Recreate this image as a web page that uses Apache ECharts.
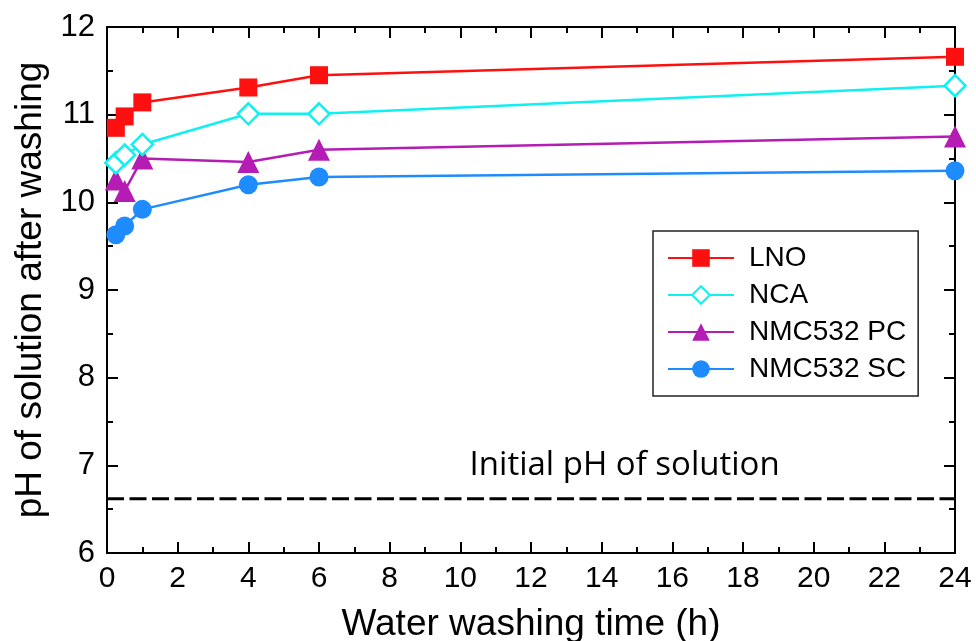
<!DOCTYPE html>
<html>
<head>
<meta charset="utf-8">
<script src="https://cdn.jsdelivr.net/npm/echarts@6/dist/echarts.min.js"></script>
<style>
  html, body { margin: 0; padding: 0; background: #fff; }
  #chart { width: 976px; height: 641px; }
</style>
</head>
<body>
<div id="chart"></div>
<script>
const times = [0.25, 0.5, 1, 4, 6, 24];
const lno = [10.85, 10.98, 11.14, 11.31, 11.45, 11.66];
const nca = [10.45, 10.54, 10.66, 11.01, 11.01, 11.33];
const nmcPC = [10.26, 10.13, 10.50, 10.46, 10.60, 10.75];
const nmcSC = [9.63, 9.73, 9.92, 10.20, 10.29, 10.36];
const initialPH = 6.62;
const xTicks = [0, 24, 2];
const yTicks = [6, 12, 1];

const font = "'Liberation Sans', Arial, sans-serif";

function pairs(ys) {
  return times.map((t, i) => [t, ys[i]]);
}

const axisCommon = {
  axisLine: { show: true, onZero: false, lineStyle: { color: "#000", width: 2 } },
  axisTick: { show: true, inside: true, length: 11, lineStyle: { color: "#000", width: 2 } },
  minorTick: { show: true, splitNumber: 2, length: 6, lineStyle: { color: "#000", width: 2 } },
  splitLine: { show: false },
};

const myChart = echarts.init(document.getElementById("chart"));

const option = {
  animation: false,
  grid: { left: 107, right: 21, top: 27, bottom: 88, containLabel: false, outerBoundsMode: "none" },
  legend: {
    orient: "vertical",
    left: 653,
    top: 231,
    padding: [13, 12, 13, 14],
    itemWidth: 66,
    itemHeight: 22,
    itemGap: 9,
    borderColor: "#222",
    borderWidth: 1.5,
    textStyle: { fontFamily: font, fontSize: 28, color: "#000", padding: [0, 0, 0, 10] },
    data: ["LNO", "NCA", "NMC532 PC", "NMC532 SC"],
  },
  xAxis: [
    Object.assign({
      type: "value",
      min: xTicks[0],
      max: xTicks[1],
      interval: xTicks[2],
      position: "bottom",
      name: "Water washing time (h)",
      nameLocation: "middle",
      nameGap: 53,
      nameTextStyle: { fontFamily: font, fontSize: 37, color: "#000" },
      axisLabel: { fontFamily: font, fontSize: 30, color: "#000", margin: 11 },
    }, axisCommon),
    Object.assign({
      type: "value",
      min: xTicks[0],
      max: xTicks[1],
      interval: xTicks[2],
      position: "top",
      axisLabel: { show: false },
    }, axisCommon),
  ],
  yAxis: [
    Object.assign({
      type: "value",
      min: yTicks[0],
      max: yTicks[1],
      interval: yTicks[2],
      position: "left",
      name: "pH of solution after washing",
      nameLocation: "middle",
      nameGap: 55,
      nameTextStyle: { fontFamily: font, fontSize: 37, color: "#000" },
      axisLabel: { fontFamily: font, fontSize: 31, color: "#000", margin: 12 },
    }, axisCommon),
    Object.assign({
      type: "value",
      min: yTicks[0],
      max: yTicks[1],
      interval: yTicks[2],
      position: "right",
      axisLabel: { show: false },
    }, axisCommon),
  ],
  series: [
    {
      name: "LNO",
      type: "line",
      data: pairs(lno),
      symbol: "rect",
      symbolSize: 18,
      color: "#ff1010",
      lineStyle: { width: 2.5, color: "#ff1010" },
      itemStyle: { color: "#ff1010" },
      z: 5,
    },
    {
      name: "NCA",
      type: "line",
      data: pairs(nca),
      symbol: "diamond",
      symbolSize: 21,
      color: "#10f0f0",
      lineStyle: { width: 2.5, color: "#10f0f0" },
      itemStyle: { color: "#fff", borderColor: "#10f0f0", borderWidth: 2.5 },
      z: 4,
    },
    {
      name: "NMC532 PC",
      type: "line",
      data: pairs(nmcPC),
      symbol: "triangle",
      symbolSize: 22,
      color: "#b41cb4",
      lineStyle: { width: 2.5, color: "#b41cb4" },
      itemStyle: { color: "#b41cb4" },
      z: 3,
    },
    {
      name: "NMC532 SC",
      type: "line",
      data: pairs(nmcSC),
      symbol: "circle",
      symbolSize: 19,
      color: "#1e8cff",
      lineStyle: { width: 2.5, color: "#1e8cff" },
      itemStyle: { color: "#1e8cff" },
      z: 2,
    },
    {
      name: "Initial pH",
      type: "line",
      data: [[xTicks[0], initialPH], [xTicks[1], initialPH]],
      symbol: "none",
      lineStyle: { width: 3, color: "#000", type: [17, 5.5] },
      silent: true,
      z: 1,
    },
  ],
};

myChart.setOption(option);

const labelPos = myChart.convertToPixel({ xAxisIndex: 0, yAxisIndex: 0 }, [14.65, 7.0]);
myChart.setOption({
  graphic: [
    {
      type: "text",
      x: labelPos[0],
      y: labelPos[1],
      style: {
        text: "Initial pH of solution",
        fontFamily: "'Open Sans', 'Liberation Sans', sans-serif",
        fontSize: 33,
        fill: "#000",
        align: "center",
        verticalAlign: "middle",
      },
    },
  ],
});
</script>
</body>
</html>
